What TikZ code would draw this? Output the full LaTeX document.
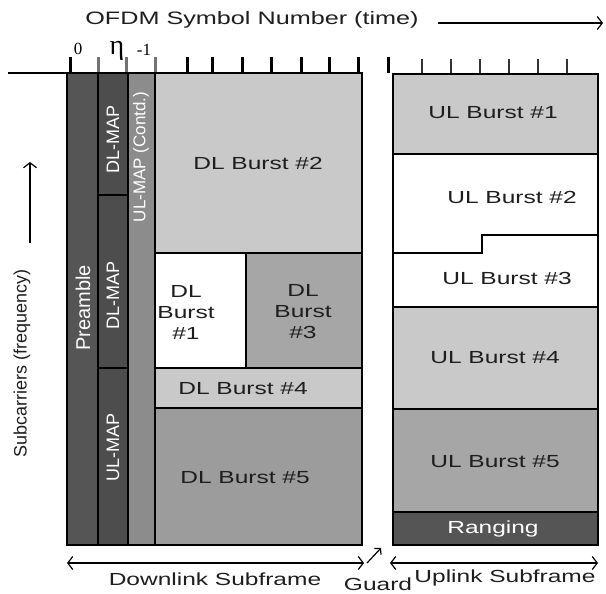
\documentclass[tikz,border=0pt]{standalone}
\usepackage{fontspec}
\setmainfont{Liberation Sans}[FakeStretch=1.4]
\newfontfamily\plainsf{Liberation Sans}
\newfontfamily\seriff{Liberation Serif}
\usetikzlibrary{arrows.meta}
\definecolor{cPre}{HTML}{555555}
\definecolor{cMap}{HTML}{4D4D4D}
\definecolor{cCont}{HTML}{8C8C8C}
\definecolor{cLight}{HTML}{C9C9C9}
\definecolor{cMid}{HTML}{A6A6A6}
\definecolor{cDLfive}{HTML}{9C9C9C}
\definecolor{cText}{HTML}{1E1E1E}
\begin{document}
\begin{tikzpicture}[x=1pt,y=-1pt,
  box/.style={draw=black, line width=2.5pt, inner sep=0pt, outer sep=0pt, anchor=north west},
  lbl/.style={font=\fontsize{17.5}{20}\selectfont, text=cText, align=center, inner sep=0pt},
  vlbl/.style={rotate=90, font=\plainsf\fontsize{18}{20}\selectfont, text=white, inner sep=0pt},
  barb/.style={line width=1.2pt, -{Straight Barb[length=5pt,width=13pt]}},
  dbarb/.style={line width=1.2pt, {Straight Barb[length=5pt,width=13pt]}-{Straight Barb[length=5pt,width=13pt]}},
  tickb/.style={line width=3pt, black},
  tickg/.style={line width=3pt, black!55},
  tickt/.style={line width=1.4pt, black!80}]
\useasboundingbox (0,0) rectangle (606,594);

% axis line
\coordinate (axL) at (8,73);
\coordinate (axR) at (67,73);
\draw[line width=2.5pt] (axL) -- (axR);

% ticks
\foreach \x in {70,187,212,242,271,301,329,358,388}
  \draw[tickb] (\x,57) -- (\x,73);
\foreach \x in {98,126,155}
  \draw[tickg] (\x,57) -- (\x,73);
\foreach \x in {422,451,480,509,538,567}
  \draw[tickt] (\x,59) -- (\x,74);

% tick labels
\node[font=\seriff\fontsize{17}{17}\selectfont, inner sep=0pt] (t0) at (78,49) {0};
\node[font=\seriff\fontsize{28}{28}\selectfont, inner sep=0pt, anchor=base] (teta) at (117,55) {η};
\node[font=\seriff\fontsize{17}{17}\selectfont, inner sep=0pt] (tm1) at (144,50) {-1};

% title
\node[lbl, font=\fontsize{18}{20}\selectfont] (title) at (252,20) {OFDM Symbol Number (time)};
\coordinate (taL) at (438,23);
\coordinate (taR) at (603,23);
\draw[barb] (taL) -- (taR);

% left axis
\node[rotate=90, font=\plainsf\fontsize{18}{20}\selectfont, text=cText, inner sep=0pt] (freq) at (22,363) {Subcarriers (frequency)};
\coordinate (faB) at (30,243);
\coordinate (faT) at (30,162);
\draw[barb] (faB) -- (faT);

% downlink columns
\node[box, fill=cPre, minimum width=31pt, minimum height=472pt] (pre) at (67,73) {};
\node[box, fill=cMap, minimum width=30pt, minimum height=122pt] (dlmapa) at (98,73) {};
\node[box, fill=cMap, minimum width=30pt, minimum height=173pt] (dlmapb) at (98,195) {};
\node[box, fill=cMap, minimum width=30pt, minimum height=177pt] (ulmap) at (98,368) {};
\node[box, fill=cCont, minimum width=27pt, minimum height=472pt] (ulcont) at (128,73) {};

\node[vlbl, font=\plainsf\fontsize{20}{22}\selectfont] (tpre) at (83,308) {Preamble};
\node[vlbl] (tdla) at (113,139) {DL-MAP};
\node[vlbl] (tdlb) at (113,295) {DL-MAP};
\node[vlbl] (tulm) at (113,447) {UL-MAP};
\node[vlbl, font=\plainsf\fontsize{17}{19}\selectfont] (tulc) at (141,157) {UL-MAP (Contd.)};

% downlink bursts
\node[box, fill=cLight, minimum width=207pt, minimum height=180pt] (dltwo) at (155,73) {};
\node[box, fill=white, minimum width=91pt, minimum height=115pt] (dlone) at (155,253) {};
\node[box, fill=cMid, minimum width=116pt, minimum height=115pt] (dlthree) at (246,253) {};
\node[box, fill=cLight, minimum width=207pt, minimum height=40pt] (dlfour) at (155,368) {};
\node[box, fill=cDLfive, minimum width=207pt, minimum height=137pt] (dlfive) at (155,408) {};

\node[lbl] (tdltwo) at (258,163) {DL Burst \#2};
\node[lbl] (tdlone) at (186,312) {DL\\[1pt]Burst\\[1pt]\#1};
\node[lbl] (tdlthree) at (303,312) {DL\\[1pt]Burst\\[1pt]\#3};
\node[lbl] (tdlfour) at (243,389) {DL Burst \#4};
\node[lbl] (tdlfive) at (245,478) {DL Burst \#5};

% uplink bursts
\node[box, fill=cLight, minimum width=205pt, minimum height=80pt] (ulone) at (393,74) {};
\node[box, fill=white, minimum width=205pt, minimum height=153pt] (ultwothree) at (393,154) {};
\node[box, fill=cLight, minimum width=205pt, minimum height=102pt] (ulfour) at (393,307) {};
\node[box, fill=cMid, minimum width=205pt, minimum height=103pt] (ulfive) at (393,409) {};
\node[box, fill=cPre, minimum width=205pt, minimum height=33pt] (rng) at (393,512) {};
\draw[line width=1.5pt] (ultwothree.west |- 0,253) -- (482,253) -- (482,235) -- (ultwothree.east |- 0,235);

\node[lbl] (tulone) at (493,113) {UL Burst \#1};
\node[lbl] (tultwo) at (512,197) {UL Burst \#2};
\node[lbl] (tulthree) at (507,278) {UL Burst \#3};
\node[lbl] (tulfour) at (495,358) {UL Burst \#4};
\node[lbl] (tulfive) at (495,462) {UL Burst \#5};
\node[lbl, text=white] (trng) at (493,529) {Ranging};

% bottom arrows
\coordinate (dlaL) at (67,563);
\coordinate (dlaR) at (364,563);
\coordinate (ulaL) at (390,563);
\coordinate (ulaR) at (598,563);
\coordinate (gA) at (367,563);
\coordinate (gB) at (381,548);
\draw[dbarb] (dlaL) -- (dlaR);
\draw[dbarb] (ulaL) -- (ulaR);
\draw[line width=1.2pt, -{Straight Barb[length=4pt,width=9pt]}] (gA) -- (gB);

\node[lbl] (tdl) at (215,579) {Downlink Subframe};
\node[lbl] (tguard) at (378,584) {Guard};
\node[lbl] (tul) at (505,578) {Uplink Subframe};
\end{tikzpicture}
\end{document}
